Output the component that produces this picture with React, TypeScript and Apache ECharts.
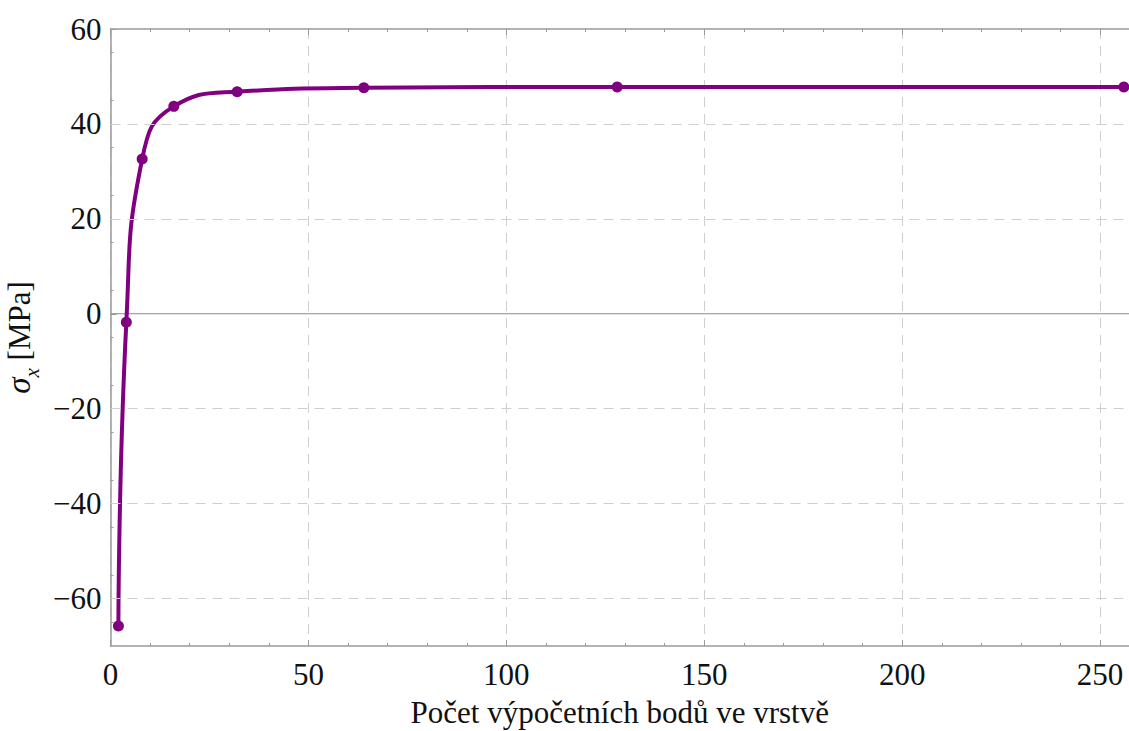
import React, { useEffect, useRef } from "react";
import * as echarts from "echarts";

const pointCounts = [2, 4, 8, 16, 32, 64, 128, 256];
const stressValues = [-65.8, -1.8, 32.6, 43.7, 46.8, 47.6, 47.8, 47.8];
const xTicks = [0, 50, 100, 150, 200, 250];
const yTicks = [-60, -40, -20, 0, 20, 40, 60];
const yGridLines = [-60, -40, -20, 20, 40];

const FONT = "Liberation Serif";

export default function App() {
  const ref = useRef<HTMLDivElement>(null);
  useEffect(() => {
    if (!ref.current) return;
    const chart = echarts.init(ref.current, undefined, { renderer: "svg" });
    const data = pointCounts.map((x, i) => [x, stressValues[i]]);
    const gridDash = { color: "#cfcfcf", width: 1, type: [10, 7] as any };
    const axisColor = "#9a9a9a";
    chart.setOption({
      animation: false,
      grid: {
        left: 110.5,
        top: 29,
        right: 0,
        bottom: 85,
        containLabel: false,
        outerBoundsMode: "none",
      },
      xAxis: [
        {
          type: "value",
          min: 0,
          max: 257.3,
          interval: 50,
          position: "bottom",
          name: "Počet výpočetních bodů ve vrstvě",
          nameLocation: "middle",
          nameGap: 51,
          nameTextStyle: { fontFamily: FONT, fontSize: 31, color: "#111" },
          axisLine: { show: true, onZero: false, lineStyle: { color: axisColor, width: 1.5 } },
          axisTick: { show: true, inside: true, length: 6, lineStyle: { color: axisColor } },
          minorTick: { show: true, splitNumber: 5, length: 3, lineStyle: { color: axisColor } },
          axisLabel: {
            margin: 13,
            fontFamily: FONT,
            fontSize: 31,
            color: "#111",
            formatter: (v: number) => (xTicks.includes(v) ? String(v) : ""),
          },
          splitLine: { show: true, lineStyle: gridDash },
        },
        {
          type: "value",
          min: 0,
          max: 257.3,
          interval: 50,
          position: "top",
          axisLine: { show: true, onZero: false, lineStyle: { color: axisColor, width: 1.5 } },
          axisTick: { show: true, inside: true, length: 6, lineStyle: { color: axisColor } },
          minorTick: { show: true, splitNumber: 5, length: 3, lineStyle: { color: axisColor } },
          axisLabel: { show: false },
          splitLine: { show: false },
        },
      ],
      yAxis: [
        {
          type: "value",
          min: -70,
          max: 60,
          interval: 10,
          name: "{s|σ}{sub|x}{n| [MPa]}",
          nameLocation: "middle",
          nameRotate: 90,
          nameGap: 64,
          nameTextStyle: {
            fontFamily: FONT,
            fontSize: 31,
            color: "#111",
            rich: {
              s: { fontFamily: FONT, fontSize: 33, fontStyle: "italic", color: "#111", lineHeight: 36, verticalAlign: "middle" },
              sub: { fontFamily: FONT, fontSize: 21, fontStyle: "italic", color: "#111", lineHeight: 36, verticalAlign: "bottom", padding: [0, 0, -5, 0] },
              n: { fontFamily: FONT, fontSize: 31, color: "#111", lineHeight: 36, verticalAlign: "middle" },
            },
          },
          axisLine: { show: true, onZero: false, lineStyle: { color: axisColor, width: 1.5 } },
          axisTick: { show: true, inside: true, length: 6, customValues: yTicks, lineStyle: { color: axisColor } },
          minorTick: { show: true, splitNumber: 2, length: 3, lineStyle: { color: axisColor } },
          axisLabel: {
            margin: 9,
            fontFamily: FONT,
            fontSize: 31,
            color: "#111",
            formatter: (v: number) =>
              yTicks.includes(v) ? (v < 0 ? "\u2212" + Math.abs(v) : String(v)) : "",
          },
          splitLine: { show: false },
        },
      ],
      series: [
        {
          type: "line",
          data: [
            [0, 0],
            [257.3, 0],
          ],
          symbol: "none",
          silent: true,
          lineStyle: { color: "#8a8a8a", width: 1.2 },
          markLine: {
            silent: true,
            symbol: "none",
            label: { show: false },
            lineStyle: gridDash,
            data: yGridLines.map((v) => ({ yAxis: v })),
          },
          z: 1,
        },
        {
          type: "line",
          data,
          smooth: 0.5,
          symbol: "circle",
          symbolSize: 11,
          itemStyle: { color: "#800080" },
          lineStyle: { color: "#800080", width: 4 },
          z: 3,
        },
      ],
    });
    return () => chart.dispose();
  }, []);
  return (
    <div
      ref={ref}
      style={{ position: "fixed", left: 0, top: 0, width: 1129, height: 731, background: "#fff" }}
    />
  );
}
